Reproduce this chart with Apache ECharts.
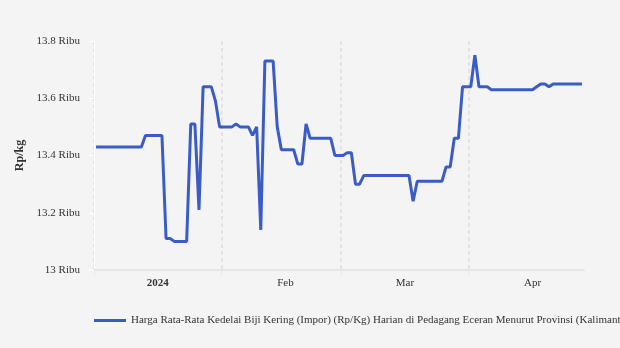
<!DOCTYPE html>
<html>
<head>
<meta charset="utf-8">
<script src="https://cdn.jsdelivr.net/npm/echarts@6/dist/echarts.min.js"></script>
<style>
html,body{margin:0;padding:0;background:#f4f4f4;}
#c{width:620px;height:348px;}
</style>
</head>
<body>
<div id="c"></div>
<script>
const seriesName = 'Harga Rata-Rata Kedelai Biji Kering (Impor) (Rp/Kg) Harian di Pedagang Eceran Menurut Provinsi (Kalimantan Barat)';
const dates = ['2024-01-01','2024-01-12','2024-01-13','2024-01-17','2024-01-18','2024-01-19','2024-01-20','2024-01-23','2024-01-24','2024-01-25','2024-01-26','2024-01-27','2024-01-29','2024-01-30','2024-01-31',
'2024-02-03','2024-02-04','2024-02-05','2024-02-07','2024-02-08','2024-02-09','2024-02-10','2024-02-11','2024-02-13','2024-02-14','2024-02-15','2024-02-18','2024-02-19','2024-02-20','2024-02-21','2024-02-22','2024-02-27','2024-02-28',
'2024-03-01','2024-03-02','2024-03-03','2024-03-04','2024-03-05','2024-03-06','2024-03-17','2024-03-18','2024-03-19','2024-03-25','2024-03-26','2024-03-27','2024-03-28','2024-03-29','2024-03-30',
'2024-04-01','2024-04-02','2024-04-03','2024-04-05','2024-04-06','2024-04-16','2024-04-17','2024-04-18','2024-04-19','2024-04-20','2024-04-21','2024-04-28'];
const prices = [13430,13430,13470,13470,13110,13110,13100,13100,13510,13510,13210,13640,13640,13590,13500,
13500,13510,13500,13500,13470,13500,13140,13730,13730,13500,13420,13420,13370,13370,13510,13460,13460,13400,
13400,13410,13410,13300,13300,13330,13330,13240,13310,13310,13360,13360,13460,13460,13640,
13640,13750,13640,13640,13630,13630,13640,13650,13650,13640,13650,13650];
const monthStarts = ['2024-01-01','2024-02-01','2024-03-01','2024-04-01'];
const monthLabelDates = ['2024-01-16','2024-02-16','2024-03-16','2024-04-16'];
const monthLabels = ['2024','Feb','Mar','Apr'];
const yTicks = [13000,13200,13400,13600,13800];
const xRange = ['2024-01-01','2024-04-29'];

const DAY = 86400000;
const t0 = Date.parse(xRange[0] + 'T00:00:00Z');
// day boundaries (midnight) and daily observations (midday)
const dayStart = s => (Date.parse(s + 'T00:00:00Z') - t0) / DAY;
const dayMid = s => (Date.parse(s + 'T12:00:00Z') - t0) / DAY;
const labelDays = monthLabelDates.map(dayMid);
const startDays = monthStarts.map(dayStart);
const font = 'Liberation Serif';
const lineColor = '#3b5cc6';

const chart = echarts.init(document.getElementById('c'));
chart.setOption({
  backgroundColor: '#f4f4f4',
  animation: false,
  grid: {left: 94, right: 36, top: 41, bottom: 78},
  legend: {
    show: true, left: 89, top: 310, icon: 'rect', itemWidth: 32, itemHeight: 3, itemGap: 10,
    textStyle: {fontFamily: font, fontSize: 11, color: '#333'},
    itemStyle: {color: lineColor},
    data: [seriesName]
  },
  xAxis: {
    type: 'value',
    min: dayStart(xRange[0]), max: dayStart(xRange[1]),
    axisLine: {show: true, lineStyle: {color: '#e6e6e6', width: 2}},
    axisTick: {show: true, customValues: startDays, length: 5, lineStyle: {color: '#e6e6e6'}},
    splitLine: {show: true, lineStyle: {color: '#dddddd', type: [4,3], width: 1.5}},
    axisLabel: {
      customValues: labelDays,
      fontFamily: font, fontSize: 11, color: '#333', margin: 8,
      formatter: function (v) {
        const i = labelDays.indexOf(v);
        if (i === 0) return '{b|' + monthLabels[i] + '}';
        return i >= 0 ? monthLabels[i] : '';
      },
      rich: {b: {fontFamily: font, fontSize: 11, fontWeight: 'bold', color: '#333'}}
    }
  },
  yAxis: {
    type: 'value', min: yTicks[0], max: yTicks[yTicks.length-1], interval: 200,
    name: 'Rp/kg', nameLocation: 'middle', nameRotate: 90, nameGap: 65,
    nameTextStyle: {fontFamily: font, fontSize: 12, fontWeight: 'bold', color: '#333'},
    axisLine: {show: true, lineStyle: {color: '#ffffff', width: 1}},
    axisTick: {show: true, length: 5, lineStyle: {color: '#ffffff'}},
    splitLine: {show: false},
    axisLabel: {fontFamily: font, fontSize: 11, color: '#333', margin: 14,
      formatter: v => (v/1000) + ' Ribu'}
  },
  series: [{
    name: seriesName, type: 'line', showSymbol: false, symbol: 'none',
    lineStyle: {color: lineColor, width: 3}, itemStyle: {color: lineColor},
    data: dates.map((d, i) => [dayMid(d), prices[i]])
  }]
});
</script>
</body>
</html>
